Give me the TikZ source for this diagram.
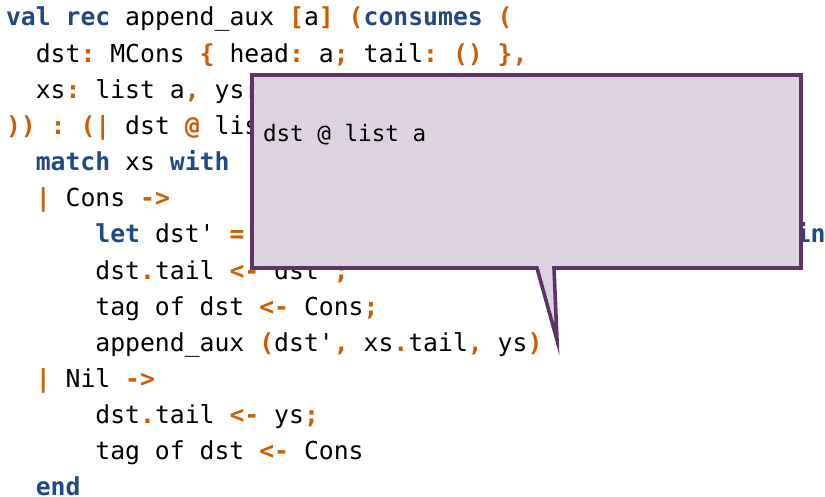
\documentclass[tikz,border=0pt]{standalone}
\usepackage{fontspec}
\setmonofont{DejaVu Sans Mono}
\definecolor{kwblue}{HTML}{204A87}
\definecolor{punct}{HTML}{CE5C00}
\definecolor{tipline}{HTML}{5C3566}
\definecolor{tipfill}{RGB}{221,210,224}
\newcommand{\kw}[1]{\textbf{\textcolor{kwblue}{#1}}}
\newcommand{\pu}[1]{\textbf{\textcolor{punct}{#1}}}
\tikzset{
  codeline/.style={anchor=base west, inner sep=0pt, outer sep=0pt,
    font=\ttfamily\fontsize{24.75}{30}\selectfont},
  tiptext/.style={anchor=base west, inner sep=0pt, outer sep=0pt,
    font=\ttfamily\fontsize{22.6}{27}\selectfont},
  callout/.style={draw=tipline, fill=tipfill, line width=3.6pt, miter limit=25}
}
\begin{document}
\begin{tikzpicture}[x=1pt,y=-1pt]
\useasboundingbox (0,0) rectangle (825,497);
% column width and line pitch of the listing
\def\cw{14.9}
\def\lh{36.15}
\def\x{6}
\node[codeline] (l1) at (\x, 26) {\kw{val} \kw{rec} append\_aux \pu{[}a\pu{]} \pu{(}\kw{consumes} \pu{(}};
\node[codeline] (l2) at (\x+2*\cw, 26+\lh) {dst\pu{:} MCons \pu{\{} head\pu{:} a\pu{;} tail\pu{:} \pu{()} \pu{\}}\pu{,}};
\node[codeline] (l3) at (\x+2*\cw, 26+2*\lh) {xs\pu{:} list a\pu{,} ys\pu{:}};
\node[codeline] (l4) at (\x, 26+3*\lh) {\pu{))} \pu{:} \pu{(|} dst \pu{@} lis};
\node[codeline] (l5) at (\x+2*\cw, 26+4*\lh) {\kw{match} xs \kw{with}};
\node[codeline] (l6) at (\x+2*\cw, 26+5*\lh) {\pu{|} Cons \pu{->}};
\node[codeline] (l7) at (\x+6*\cw, 26+6*\lh) {\kw{let} dst' \pu{=}};
\node[codeline] (l7b) at (\x+53*\cw, 26+6*\lh) {\kw{in}};
\node[codeline] (l8) at (\x+6*\cw, 26+7*\lh) {dst\pu{.}tail \pu{<-} dst'\pu{;}};
\node[codeline] (l9) at (\x+6*\cw, 26+8*\lh) {tag of dst \pu{<-} Cons\pu{;}};
\node[codeline] (l10) at (\x+6*\cw, 26+9*\lh) {append\_aux \pu{(}dst'\pu{,} xs\pu{.}tail\pu{,} ys\pu{)}};
\node[codeline] (l11) at (\x+2*\cw, 26+10*\lh) {\pu{|} Nil \pu{->}};
\node[codeline] (l12) at (\x+6*\cw, 26+11*\lh) {dst\pu{.}tail \pu{<-} ys\pu{;}};
\node[codeline] (l13) at (\x+6*\cw, 26+12*\lh) {tag of dst \pu{<-} Cons};
\node[codeline] (l14) at (\x+2*\cw, 26+13*\lh) {\kw{end}};
% speech-bubble annotation laid over the listing
\coordinate (tip) at (557,340);
\draw[callout] (252,75) -- (801,75) -- (801,268) -- (554,268) -- (tip)
  -- (537,268) -- (252,268) -- cycle;
\node[tiptext] (note) at (263,142) {dst @ list a};
\end{tikzpicture}
\end{document}
